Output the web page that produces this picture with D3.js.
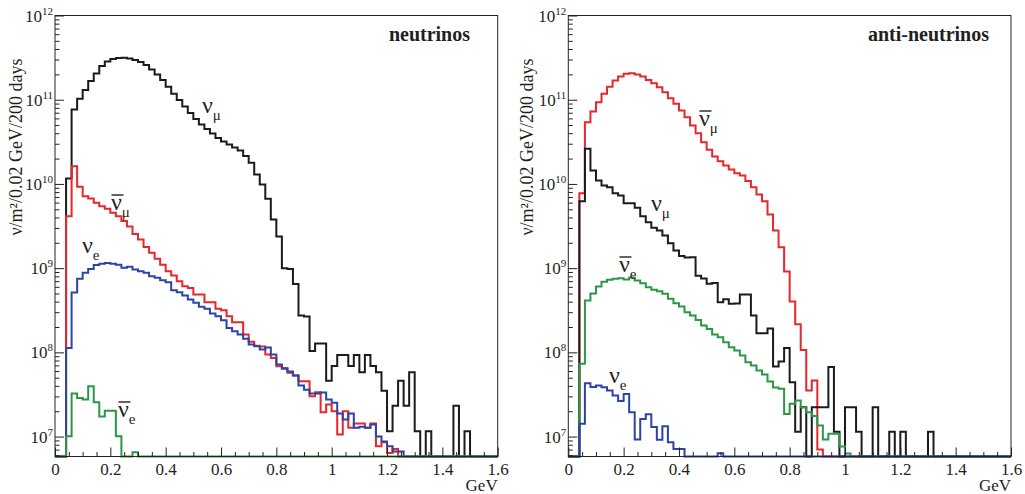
<!DOCTYPE html>
<html>
<head>
<meta charset="utf-8">
<script src="https://cdn.jsdelivr.net/npm/d3@7"></script>
<style>
	body { margin: 0; background: #fff; }
	text { font-family: "Liberation Serif", "Times New Roman", serif; fill: #231f20; }
</style>
</head>
<body>
<svg id="chart" width="1025" height="494"></svg>
<script>
//Variables declaration
const CHART = "#chart";
const BIN_WIDTH = 0.02;
const N_BINS = 80;
const X_TICKS = [0, 0.2, 0.4, 0.6, 0.8, 1, 1.2, 1.4, 1.6];
const X_MINOR = [0.05, 0.1, 0.15, 0.25, 0.3, 0.35, 0.45, 0.5, 0.55, 0.65, 0.7, 0.75, 0.85, 0.9, 0.95,
	1.05, 1.1, 1.15, 1.25, 1.3, 1.35, 1.45, 1.5, 1.55];
const Y_DECADES = [1e7, 1e8, 1e9, 1e10, 1e11, 1e12];
const Y_EXPONENTS = ["7", "8", "9", "10", "11", "12"];
const Y_MIN = 5.8e6;
const Y_MAX = 1e12;

// neutrino mode (left panel), per 0.02 GeV bin
const NU_MU_NU = [
	0, 0, 1.16e10, 7.65e10, 1.03e11, 1.30e11, 1.67e11, 2.05e11, 2.51e11, 2.84e11,
	3.04e11, 3.13e11, 3.15e11, 3.09e11, 2.96e11, 2.80e11, 2.58e11, 2.28e11, 1.99e11, 1.71e11,
	1.43e11, 1.18e11, 9.9e10, 8.3e10, 6.95e10, 5.9e10, 5.08e10, 4.49e10, 3.97e10, 3.51e10,
	3.19e10, 2.94e10, 2.71e10, 2.49e10, 2.14e10, 1.78e10, 1.29e10, 9.84e9, 6.65e9, 3.78e9,
	2.37e9, 1.00e9, 9.76e8, 6.47e8, 2.74e8, 2.66e8, 1.04e8, 1.27e8, 1.27e8, 4.6e7,
	6.9e7, 9.3e7, 9.3e7, 6.9e7, 9.3e7, 5.8e7, 9.3e7, 6.9e7, 5.8e7, 3.5e7,
	1.16e7, 2.33e7, 4.6e7, 2.33e7, 5.8e7, 1.16e7, 0, 1.16e7, 0, 0,
	0, 0, 2.33e7, 0, 1.16e7, 0, 0, 0, 0, 0
];
const ANTI_NU_MU_NU = [
	0, 0, 4.13e9, 1.62e10, 9.24e9, 7.14e9, 6.71e9, 5.96e9, 5.44e9, 5.06e9,
	4.54e9, 4.13e9, 3.63e9, 3.12e9, 2.54e9, 2.19e9, 1.78e9, 1.52e9, 1.29e9, 1.10e9,
	9.19e8, 8.17e8, 6.99e8, 6.10e8, 5.83e8, 4.86e8, 4.86e8, 3.94e8, 3.94e8, 3.29e8,
	3.16e8, 2.68e8, 2.28e8, 2.28e8, 1.63e8, 1.34e8, 1.20e8, 1.17e8, 9.42e7, 8.60e7,
	6.84e7, 6.54e7, 5.71e7, 5.30e7, 4.54e7, 4.54e7, 3.01e7, 3.36e7, 1.94e7, 2.40e7,
	2.0e7, 1.06e7, 2.0e7, 1.27e7, 1.43e7, 1.43e7, 1.27e7, 1.43e7, 7.67e6, 8.55e6,
	6.40e6, 7.14e6, 0, 0, 0, 0, 0, 0, 0, 0,
	0, 0, 0, 0, 0, 0, 0, 0, 0, 0
];
const NU_E_NU = [
	0, 0, 1.13e8, 5.13e8, 7.46e8, 8.80e8, 9.76e8, 1.09e9, 1.13e9, 1.15e9,
	1.13e9, 1.10e9, 1.01e9, 1.04e9, 9.63e8, 9.19e8, 8.80e8, 8.01e8, 7.67e8, 7.18e8,
	6.80e8, 5.47e8, 5.17e8, 4.73e8, 4.24e8, 3.87e8, 3.47e8, 3.29e8, 2.89e8, 2.68e8,
	2.41e8, 1.95e8, 1.78e8, 1.63e8, 1.45e8, 1.24e8, 1.18e8, 1.08e8, 1.14e8, 9.42e7,
	7.16e7, 6.37e7, 5.92e7, 5.30e7, 4.03e7, 3.61e7, 3.24e7, 3.24e7, 3.33e7, 2.75e7,
	2.53e7, 1.88e7, 1.59e7, 1.88e7, 1.27e7, 1.31e7, 1.27e7, 1.39e7, 1.0e7, 8.72e6,
	7.67e6, 6.63e6, 6.63e6, 0, 0, 0, 0, 0, 0, 0,
	0, 0, 0, 0, 0, 0, 0, 0, 0, 0
];
const ANTI_NU_E_NU = [
	0, 0, 1.01e7, 3.24e7, 2.88e7, 2.75e7, 3.96e7, 2.55e7, 1.73e7, 2.02e7,
	2.02e7, 1.01e7, 0, 0, 6.5e6, 0, 0, 0, 0, 0,
	0, 0, 0, 0, 0, 0, 0, 0, 0, 0,
	0, 0, 0, 0, 0, 0, 0, 0, 0, 0,
	0, 0, 0, 0, 0, 0, 0, 0, 0, 0,
	0, 0, 0, 0, 0, 0, 0, 0, 0, 0,
	0, 0, 0, 0, 0, 0, 0, 0, 0, 0,
	0, 0, 0, 0, 0, 0, 0, 0, 0, 0
];

// anti-neutrino mode (right panel)
const NU_MU_ANTI = [
	0, 0, 6.23e9, 2.61e10, 1.44e10, 1.10e10, 9.57e9, 9.14e9, 7.75e9, 7.28e9,
	5.90e9, 5.90e9, 5.20e9, 4.13e9, 3.51e9, 3.01e9, 2.80e9, 2.44e9, 1.98e9, 1.62e9,
	1.39e9, 1.34e9, 1.35e9, 8.10e8, 7.52e8, 6.51e8, 6.65e8, 3.94e8, 4.26e8, 3.77e8,
	3.80e8, 4.86e8, 4.86e8, 2.74e8, 1.69e8, 1.69e8, 1.92e8, 6.78e7, 7.78e7, 1.13e8,
	4.42e7, 1.14e7, 2.23e7, 0, 2.23e7, 2.23e7, 2.23e7, 6.7e7, 1.14e7, 0,
	2.23e7, 2.23e7, 1.14e7, 0, 0, 2.23e7, 0, 0, 1.14e7, 0,
	1.14e7, 0, 0, 0, 0, 1.14e7, 0, 0, 0, 0,
	0, 0, 0, 0, 0, 0, 0, 0, 0, 0
];
const ANTI_NU_MU_ANTI = [
	0, 0, 7.75e9, 5.41e10, 7.24e10, 9.34e10, 1.18e11, 1.43e11, 1.69e11, 1.89e11,
	2.03e11, 2.06e11, 1.99e11, 1.89e11, 1.72e11, 1.57e11, 1.41e11, 1.23e11, 1.04e11, 8.94e10,
	7.44e10, 6.20e10, 4.94e10, 4.0e10, 3.13e10, 2.54e10, 2.12e10, 1.86e10, 1.65e10, 1.48e10,
	1.34e10, 1.26e10, 1.08e10, 9.14e9, 7.48e9, 6.23e9, 4.33e9, 2.80e9, 1.77e9, 9.11e8,
	4.01e8, 2.16e8, 1.07e8, 3.52e7, 4.63e7, 7.01e6, 0, 0, 0, 0,
	0, 0, 0, 0, 0, 0, 0, 0, 0, 0,
	0, 0, 0, 0, 0, 0, 0, 0, 0, 0,
	0, 0, 0, 0, 0, 0, 0, 0, 0, 0
];
const ANTI_NU_E_ANTI = [
	0, 0, 7.30e7, 4.12e8, 4.99e8, 6.05e8, 6.90e8, 7.26e8, 7.46e8, 7.59e8,
	7.32e8, 7.73e8, 7.12e8, 6.62e8, 5.93e8, 5.53e8, 5.32e8, 4.95e8, 4.32e8, 3.83e8,
	3.50e8, 2.99e8, 2.74e8, 2.43e8, 2.08e8, 1.90e8, 1.63e8, 1.51e8, 1.32e8, 1.15e8,
	1.05e8, 9.16e7, 7.63e7, 6.97e7, 6.08e7, 5.45e7, 4.50e7, 3.82e7, 3.69e7, 1.86e7,
	2.45e7, 2.68e7, 2.23e7, 1.94e7, 1.75e7, 1.35e7, 9.21e6, 1.08e7, 1.08e7, 7.61e6,
	6.28e6, 0, 0, 0, 0, 0, 0, 0, 0, 0,
	0, 0, 0, 0, 0, 0, 0, 0, 0, 0,
	0, 0, 0, 0, 0, 0, 0, 0, 0, 0
];
const NU_E_ANTI = [
	0, 0, 1.42e7, 4.30e7, 3.89e7, 4.03e7, 3.85e7, 3.52e7, 3.07e7, 2.65e7,
	3.21e7, 1.94e7, 9.26e6, 1.62e7, 1.84e7, 1.30e7, 9.14e6, 1.33e7, 8.55e6, 7.14e6,
	7.14e6, 0, 0, 0, 0, 0, 0, 6.33e6, 0, 0,
	0, 0, 0, 0, 0, 0, 0, 0, 0, 0,
	0, 0, 0, 0, 0, 0, 0, 0, 0, 0,
	0, 0, 0, 0, 0, 0, 0, 0, 0, 0,
	0, 0, 0, 0, 0, 0, 0, 0, 0, 0,
	0, 0, 0, 0, 0, 0, 0, 0, 0, 0
];

const COLORS = { numu: "#1b1b1b", anumu: "#e8262b", nue: "#2b44a6", anue: "#2b9646" };

const PANELS = [
	{
		left: 55, right: 497.7, title: "neutrinos", titleX: 470, yLabelX: 22,
		series: [
			{ data: NU_MU_NU, color: COLORS.numu },
			{ data: ANTI_NU_MU_NU, color: COLORS.anumu },
			{ data: NU_E_NU, color: COLORS.nue },
			{ data: ANTI_NU_E_NU, color: COLORS.anue }
		],
		labels: [
			{ x: 202, y: 113, sub: "μ", anti: false },
			{ x: 111, y: 210, sub: "μ", anti: true },
			{ x: 82, y: 253, sub: "e", anti: false },
			{ x: 118, y: 417, sub: "e", anti: true }
		]
	},
	{
		left: 568.3, right: 1011, title: "anti-neutrinos", titleX: 989, yLabelX: 533,
		series: [
			{ data: ANTI_NU_MU_ANTI, color: COLORS.anumu },
			{ data: NU_MU_ANTI, color: COLORS.numu },
			{ data: ANTI_NU_E_ANTI, color: COLORS.anue },
			{ data: NU_E_ANTI, color: COLORS.nue }
		],
		labels: [
			{ x: 699, y: 126, sub: "μ", anti: true },
			{ x: 651, y: 211, sub: "μ", anti: false },
			{ x: 619, y: 272, sub: "e", anti: true },
			{ x: 609, y: 383, sub: "e", anti: false }
		]
	}
];

const TOP = 15.5, BOTTOM = 456.5;


//Methods

function minorLogTicks() {
	var ticks = [];
	for (var e = 6; e < 12; e++) {
		for (var k = 2; k <= 9; k++) {
			var v = k * Math.pow(10, e);
			if (v >= Y_MIN && v < Y_MAX) ticks.push(v);
		}
	}
	return ticks;
}

function drawPanel(svg, panel) {
	const xScale = d3.scaleLinear().domain([0, 1.6]).range([panel.left, panel.right]);
	const yScale = d3.scaleLog().domain([Y_MIN, Y_MAX]).range([BOTTOM, TOP]);

	const g = svg.append("g");

	// histograms as step lines
	const line = d3.line()
		.x(function (d) { return xScale(d[0]); })
		.y(function (d) { return yScale(d[1] > Y_MIN ? d[1] : Y_MIN); })
		.curve(d3.curveStepAfter);

	panel.series.forEach(function (s) {
		var pts = s.data.map(function (v, i) { return [i * BIN_WIDTH, v]; });
		pts.push([N_BINS * BIN_WIDTH, s.data[N_BINS - 1]]);
		g.append("path")
			.datum(pts)
			.attr("fill", "none")
			.attr("stroke", s.color)
			.attr("stroke-width", 2)
			.attr("d", line);
	});

	// frame
	g.append("rect")
		.attr("x", panel.left)
		.attr("y", TOP)
		.attr("width", panel.right - panel.left)
		.attr("height", BOTTOM - TOP)
		.attr("fill", "none")
		.attr("stroke", "#222")
		.attr("stroke-width", 1);

	// x axis
	const xMajor = g.append("g")
		.attr("transform", "translate(0," + BOTTOM + ")")
		.call(d3.axisBottom(xScale).tickValues(X_TICKS).tickSize(-9).tickSizeOuter(0).tickPadding(6)
			.tickFormat(function (d) { return d === 0 || d === 1 ? String(d) : d3.format(".1f")(d); }));
	xMajor.select(".domain").remove();
	xMajor.selectAll("text").style("font-size", "17px").attr("font-family", null);

	const xMinor = g.append("g")
		.attr("transform", "translate(0," + BOTTOM + ")")
		.call(d3.axisBottom(xScale).tickValues(X_MINOR).tickSize(-4.5).tickSizeOuter(0).tickFormat(""));
	xMinor.select(".domain").remove();

	// y axis
	const yMajor = g.append("g")
		.attr("transform", "translate(" + panel.left + ",0)")
		.call(d3.axisLeft(yScale).tickValues(Y_DECADES).tickSize(-9).tickSizeOuter(0).tickFormat(""));
	yMajor.select(".domain").remove();

	const yMinor = g.append("g")
		.attr("transform", "translate(" + panel.left + ",0)")
		.call(d3.axisLeft(yScale).tickValues(minorLogTicks()).tickSize(-4.5).tickSizeOuter(0).tickFormat(""));
	yMinor.select(".domain").remove();

	g.selectAll(".tick line").attr("stroke", "#222");

	Y_DECADES.forEach(function (d, i) {
		var t = g.append("text")
			.attr("x", panel.left - 2)
			.attr("y", yScale(d) + 6)
			.attr("text-anchor", "end")
			.style("font-size", "17px");
		t.append("tspan").text("10");
		t.append("tspan").attr("dy", -7).style("font-size", "11px").text(Y_EXPONENTS[i]);
	});

	g.append("text")
		.attr("transform", "translate(" + panel.yLabelX + "," + 147 + ") rotate(-90)")
		.attr("text-anchor", "middle")
		.style("font-size", "18px")
		.text("ν/m²/0.02 GeV/200 days");

	g.append("text")
		.attr("x", panel.right)
		.attr("y", 491)
		.attr("text-anchor", "end")
		.style("font-size", "17px")
		.text("GeV");

	g.append("text")
		.attr("x", panel.titleX)
		.attr("y", 40.5)
		.attr("text-anchor", "end")
		.style("font-size", "20px")
		.style("font-weight", "bold")
		.text(panel.title);

	panel.labels.forEach(function (l) {
		var t = g.append("text")
			.attr("x", l.x)
			.attr("y", l.y)
			.style("font-size", "24px");
		t.append("tspan").text("ν");
		t.append("tspan").attr("dy", 7).style("font-size", "15px").text(l.sub);
		if (l.anti) {
			g.append("line")
				.attr("x1", l.x + 0.5).attr("x2", l.x + 12.5)
				.attr("y1", l.y - 15).attr("y2", l.y - 15)
				.attr("stroke", "#231f20")
				.attr("stroke-width", 1.4);
		}
	});
}

const svg = d3.select(CHART);
PANELS.forEach(function (p) { drawPanel(svg, p); });
</script>
</body>
</html>
